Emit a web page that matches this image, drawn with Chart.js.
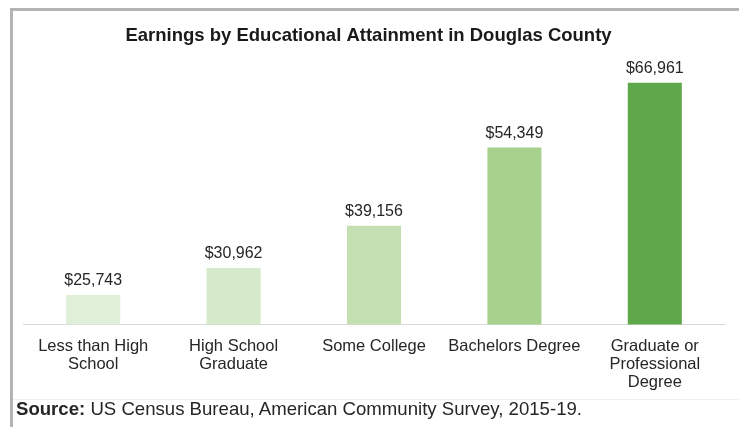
<!DOCTYPE html>
<html>
<head>
<meta charset="utf-8">
<script src="https://cdn.jsdelivr.net/npm/chart.js@4.4.1/dist/chart.umd.min.js"></script>
<style>
  html, body { margin: 0; padding: 0; background: #ffffff; }
  body { width: 739px; height: 427px; position: relative; overflow: hidden; font-family: "Liberation Sans", Arial, sans-serif; }
  #frame { position: absolute; left: 10px; top: 8px; width: 729px; height: 419px;
           border-top: 3px solid #b3b3b3; border-left: 3px solid #b3b3b3; box-sizing: border-box; }
  #sep { position: absolute; left: 13px; top: 399px; width: 726px; height: 1px; background: #f0f0f0; }
  #wrap { position: absolute; left: 0; top: 0; width: 739px; height: 427px; }
  #source { position: absolute; left: 16px; top: 398px; font-size: 18.6px; line-height: 21px; color: #262626; white-space: nowrap; }
</style>
</head>
<body>
<div id="frame"></div>
<div id="sep"></div>
<div id="wrap"><canvas id="c" width="739" height="427"></canvas></div>
<div id="source"><b>Source:</b> US Census Bureau, American Community Survey, 2015-19.</div>
<script>
const chartTitle = "Earnings by Educational Attainment in Douglas County";
const categories = [
  ["Less than High", "School"],
  ["High School", "Graduate"],
  ["Some College"],
  ["Bachelors Degree"],
  ["Graduate or", "Professional", "Degree"]
];
const earnings = [25743, 30962, 39156, 54349, 66961];
const barColors = ["#e0efd7", "#d4eaca", "#c4e0b3", "#a9d18e", "#5fa84a"];
const axisMin = 20000;
const axisMax = 70000;

const valueLabels = {
  id: "valueLabels",
  afterDatasetsDraw(chart) {
    const ctx = chart.ctx;
    const meta = chart.getDatasetMeta(0);
    ctx.save();
    ctx.font = "16px 'Liberation Sans', Arial, sans-serif";
    ctx.fillStyle = "#262626";
    ctx.textAlign = "center";
    ctx.textBaseline = "bottom";
    meta.data.forEach((bar, i) => {
      const v = chart.data.datasets[0].data[i];
      ctx.fillText("$" + v.toLocaleString("en-US"), bar.x, bar.y - 6);
    });
    ctx.restore();
  }
};

const titleText = {
  id: "titleText",
  afterDraw(chart) {
    const ctx = chart.ctx;
    ctx.save();
    ctx.font = "bold 18.5px 'Liberation Sans', Arial, sans-serif";
    ctx.fillStyle = "#1a1a1a";
    ctx.textAlign = "center";
    ctx.textBaseline = "middle";
    ctx.fillText(chartTitle, 368.5, 36);
    ctx.restore();
  }
};

new Chart(document.getElementById("c"), {
  type: "bar",
  data: {
    labels: categories,
    datasets: [{
      data: earnings,
      backgroundColor: barColors,
      borderWidth: 0,
      barPercentage: 0.385,
      categoryPercentage: 1.0
    }]
  },
  options: {
    responsive: false,
    animation: false,
    layout: { padding: { left: 23, right: 14, top: 67, bottom: 23 } },
    plugins: {
      legend: { display: false },
      tooltip: { enabled: false },
      title: { display: false }
    },
    scales: {
      x: {
        grid: { display: false, drawTicks: false },
        border: { display: true, color: "#d9d9d9", width: 1 },
        ticks: {
          color: "#262626",
          padding: 13,
          maxRotation: 0,
          autoSkip: false,
          font: { family: "'Liberation Sans', Arial, sans-serif", size: 16.5, lineHeight: 1.08 }
        }
      },
      y: {
        display: false,
        min: axisMin,
        max: axisMax
      }
    }
  },
  plugins: [valueLabels, titleText]
});
</script>
</body>
</html>
